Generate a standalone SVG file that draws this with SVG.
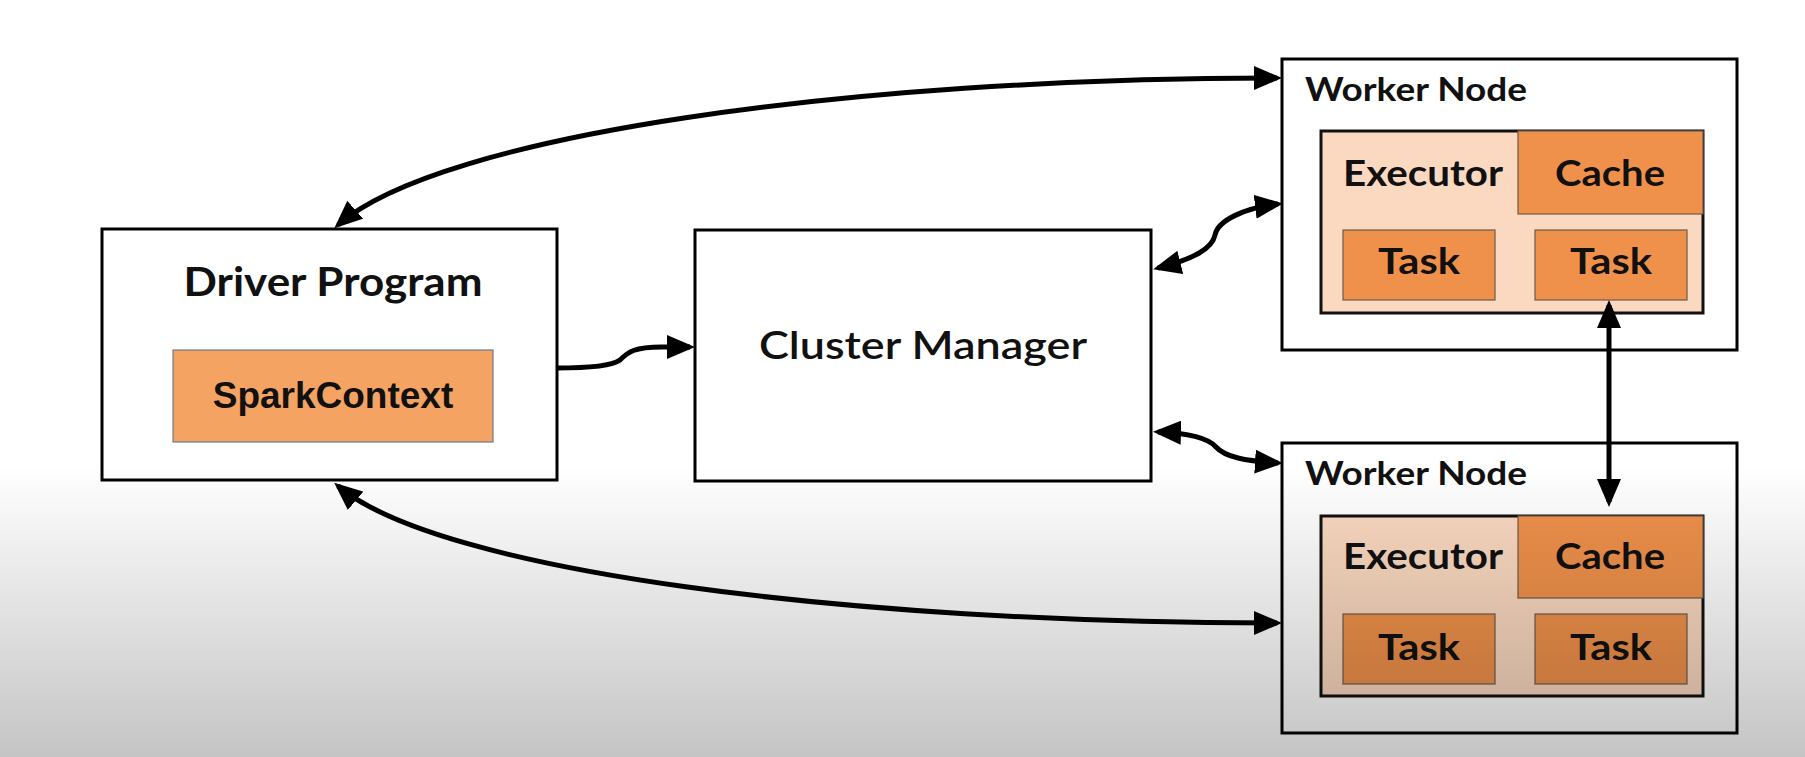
<svg xmlns="http://www.w3.org/2000/svg" width="1805" height="757" viewBox="0 0 1805 757">
  <defs>
    <marker id="ah" markerUnits="userSpaceOnUse" markerWidth="28" markerHeight="24" refX="23" refY="12" orient="auto-start-reverse" viewBox="0 0 28 24">
      <path d="M0,0 L28,12 L0,24 z" fill="#000"/>
    </marker>
    <linearGradient id="shade" x1="0" y1="0" x2="0" y2="757" gradientUnits="userSpaceOnUse">
      <stop offset="0" stop-color="#000" stop-opacity="0"/>
      <stop offset="0.615" stop-color="#000" stop-opacity="0"/>
      <stop offset="1" stop-color="#000" stop-opacity="0.23"/>
    </linearGradient>
    <style>
      .frame { fill: #fff; stroke: #000; stroke-width: 3; }
      .exec { fill: #fbd9c0; stroke: #111; stroke-width: 3; }
      .orange { fill: #f0914b; stroke: #6b5a4e; stroke-width: 1.2; }
      .spark { fill: #f4a362; stroke: #6d7c8c; stroke-width: 1.2; }
      .lbl { font-family: Lato, "Open Sans", "Liberation Sans", sans-serif; font-weight: bold; fill: #111; }
      .arial { font-family: "Liberation Sans", Arial, sans-serif; font-weight: bold; fill: #111; }
      .conn { fill: none; stroke: #000; stroke-width: 5; }
    </style>
  </defs>
  <rect x="0" y="0" width="1805" height="757" fill="#fff"/>

  <g id="driver">
    <rect class="frame" x="102" y="229" width="455" height="251"/>
    <text class="lbl" x="333" y="296" font-size="41" text-anchor="middle" textLength="299" lengthAdjust="spacingAndGlyphs">Driver Program</text>
    <g id="sparkcontext">
      <rect class="spark" x="173" y="350" width="320" height="92"/>
      <text class="arial" x="333" y="408" font-size="37" text-anchor="middle">SparkContext</text>
    </g>
  </g>

  <g id="cluster-manager">
    <rect class="frame" x="695" y="230" width="456" height="251"/>
    <text class="lbl" x="923" y="359" font-size="38" text-anchor="middle" textLength="328" lengthAdjust="spacingAndGlyphs" style="font-weight:600">Cluster Manager</text>
  </g>

  <g id="worker1">
    <rect class="frame" x="1282" y="59" width="455" height="291"/>
    <text class="lbl" x="1305" y="101" font-size="32" textLength="222" lengthAdjust="spacingAndGlyphs">Worker Node</text>
    <g id="executor1">
      <rect class="exec" x="1321" y="131" width="382" height="182"/>
      <text class="lbl" x="1343" y="186" font-size="36" textLength="160" lengthAdjust="spacingAndGlyphs">Executor</text>
      <rect class="orange" x="1518" y="131" width="185" height="83"/>
      <text class="lbl" x="1610" y="186" font-size="36" text-anchor="middle" textLength="110" lengthAdjust="spacingAndGlyphs">Cache</text>
      <rect class="orange" x="1343" y="230" width="152" height="70"/>
      <text class="lbl" x="1419" y="274" font-size="37" text-anchor="middle" textLength="82" lengthAdjust="spacingAndGlyphs">Task</text>
      <rect class="orange" x="1535" y="230" width="152" height="70"/>
      <text class="lbl" x="1611" y="274" font-size="37" text-anchor="middle" textLength="82" lengthAdjust="spacingAndGlyphs">Task</text>
    </g>
  </g>

  <g id="worker2">
    <rect class="frame" x="1282" y="443" width="455" height="290"/>
    <text class="lbl" x="1305" y="485" font-size="32" textLength="222" lengthAdjust="spacingAndGlyphs">Worker Node</text>
    <g id="executor2">
      <rect class="exec" x="1321" y="516" width="382" height="180"/>
      <text class="lbl" x="1343" y="569" font-size="36" textLength="160" lengthAdjust="spacingAndGlyphs">Executor</text>
      <rect class="orange" x="1518" y="516" width="185" height="82"/>
      <text class="lbl" x="1610" y="569" font-size="36" text-anchor="middle" textLength="110" lengthAdjust="spacingAndGlyphs">Cache</text>
      <rect class="orange" x="1343" y="614" width="152" height="70"/>
      <text class="lbl" x="1419" y="660" font-size="37" text-anchor="middle" textLength="82" lengthAdjust="spacingAndGlyphs">Task</text>
      <rect class="orange" x="1535" y="614" width="152" height="70"/>
      <text class="lbl" x="1611" y="660" font-size="37" text-anchor="middle" textLength="82" lengthAdjust="spacingAndGlyphs">Task</text>
    </g>
  </g>

  <g id="connectors">
    <path class="conn" d="M338,225 C440,135 850,78 1277,78" marker-start="url(#ah)" marker-end="url(#ah)"/>
    <path class="conn" d="M338,486 C440,572 850,623 1277,623" marker-start="url(#ah)" marker-end="url(#ah)"/>
    <path class="conn" d="M556,368 C590,368 612,366 620,360 C628,352 634,347 662,347 L690,347" marker-end="url(#ah)"/>
    <path class="conn" d="M1158,268 C1190,260 1212,250 1215,235 C1218,220 1245,208 1278,204" marker-start="url(#ah)" marker-end="url(#ah)"/>
    <path class="conn" d="M1158,432 C1190,433 1208,438 1216,447 C1225,457 1245,461 1278,463" marker-start="url(#ah)" marker-end="url(#ah)"/>
    <path class="conn" d="M1609,305 L1609,502" marker-start="url(#ah)" marker-end="url(#ah)"/>
  </g>

  <rect x="0" y="0" width="1805" height="757" fill="url(#shade)" pointer-events="none"/>
</svg>
